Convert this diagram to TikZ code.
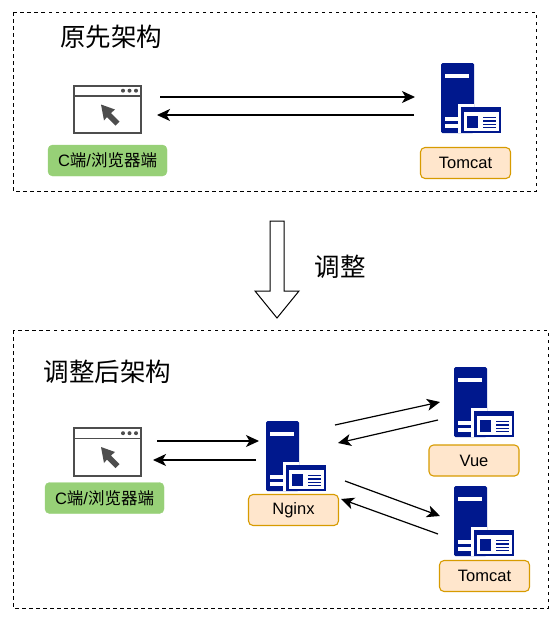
\documentclass[tikz,border=0pt]{standalone}
\usepackage{fontspec}
\setmainfont{Liberation Sans}
\newfontfamily\cjk{Noto Sans CJK SC}
\usepackage{xcolor}
\definecolor{srvblue}{HTML}{00188D}
\definecolor{iconGray}{HTML}{4D4D4D}
\definecolor{tagGreen}{HTML}{97D077}
\definecolor{tagOrange}{HTML}{FFE6CC}
\definecolor{tagEdge}{HTML}{D79B00}
\usetikzlibrary{arrows.meta}

\begin{document}
\begin{tikzpicture}[
  x=1pt,y=-1pt,
  frame/.style={draw,dashed,line width=1pt,dash pattern=on 3.5pt off 3.5pt},
  clienttag/.style={draw=tagGreen,fill=tagGreen,rounded corners=4.5pt,minimum width=119pt,minimum height=31pt,
    inner sep=0pt,font=\fontsize{16.5}{18}\selectfont},
  srvtag/.style={draw=tagEdge,fill=tagOrange,rounded corners=4.5pt,line width=1.1pt,minimum width=90pt,minimum height=31pt,
    inner sep=0pt,font=\fontsize{16.5}{18}\selectfont},
  title/.style={inner sep=0pt,font=\fontsize{25.5}{28}\selectfont\cjk},
  arr/.style={-{Stealth[length=13pt,width=12pt,inset=3.5pt]},line width=1.2pt},
  server/.pic={
    \fill[srvblue,rounded corners=1.5pt] (0,0) -- (33,0) -- (33,70) -- (0,70) -- cycle;
    \fill[white] (4,11) rectangle (28,14.5);
    \fill[white] (4,54) rectangle (20,57.5);
    \fill[white] (4,60.5) rectangle (20,64.5);
    \fill[white] (17,41) rectangle (33,70);
    \fill[srvblue] (20,44) rectangle (60,70);
    \fill[white] (22.5,49) rectangle (58,68);
    \fill[srvblue] (26,53) rectangle (37,65);
    \foreach \ly in {53.5,57,60.5,63.5}
      \fill[srvblue] (42,\ly) rectangle (55,\ly+1.8);
  },
  browser/.pic={
    \draw[iconGray,line width=2pt] (0,0) rectangle (67.5,47.5);
    \draw[iconGray,line width=1.8pt] (0,10.5) -- (67.5,10.5);
    \foreach \dx in {49.5,56,62.5}
      \fill[iconGray] (\dx,5.2) circle (2);
    \fill[iconGray] (27.5,19) -- (41.5,24) -- (37.5,27.5) -- (46,36) -- (42,40) -- (33.5,31.5) -- (30.5,35) -- cycle;
  }
]
  \useasboundingbox (0,0) rectangle (556,619);
  % Frames
  \draw[frame] (13,12) rectangle (536,191);
  \draw[frame] (13,330) rectangle (548,608);
  \node[title] (oldtitle) at (111,37) {原先架构};
  \node[title] (newtitle) at (107.5,372) {调整后架构};
  % Old layout
  \pic at (73.5,85.5) {browser};
  \pic at (441,63) {server};
  \node[clienttag] (oldclient) at (107.5,160.5) {C{\cjk 端}/{\cjk 浏览器端}};
  \node[srvtag] (oldtomcat) at (465.5,163) {Tomcat};
  \coordinate (oldreqa) at (160,97);
  \coordinate (oldreqb) at (415,97);
  \coordinate (oldresa) at (414,115);
  \coordinate (oldresb) at (157,115);
  \draw[arr] (oldreqa) -- (oldreqb);
  \draw[arr] (oldresa) -- (oldresb);
  % Adjust arrow
  \draw[line width=1pt,fill=white] (270,221) -- (284,221) -- (284,291) -- (299,291) -- (277,318) -- (255,291) -- (270,291) -- cycle;
  \node[title] (adjustlabel) at (340,267) {调整};
  % New layout
  \pic at (73.5,428) {browser};
  \pic at (266,421) {server};
  \pic at (454,367) {server};
  \pic at (454,486) {server};
  \node[clienttag] (newclient) at (104.5,498) {C{\cjk 端}/{\cjk 浏览器端}};
  \node[srvtag] (nginx) at (293.5,510) {Nginx};
  \node[srvtag] (vue) at (474,460.5) {Vue};
  \node[srvtag] (newtomcat) at (484.5,576) {Tomcat};
  \coordinate (cliout) at (157,441);
  \coordinate (ngxin) at (259,441);
  \coordinate (ngxout) at (256,460);
  \coordinate (cliin) at (153,460);
  \coordinate (vuereqa) at (335,425);
  \coordinate (vuereqb) at (440,402);
  \coordinate (vueresa) at (438,420);
  \coordinate (vueresb) at (338,443);
  \coordinate (tomreqa) at (345,481);
  \coordinate (tomreqb) at (440,516);
  \coordinate (tomresa) at (438,534);
  \coordinate (tomresb) at (341,499);
  \draw[arr] (cliout) -- (ngxin);
  \draw[arr] (ngxout) -- (cliin);
  \draw[arr] (vuereqa) -- (vuereqb);
  \draw[arr] (vueresa) -- (vueresb);
  \draw[arr] (tomreqa) -- (tomreqb);
  \draw[arr] (tomresa) -- (tomresb);
\end{tikzpicture}
\end{document}
